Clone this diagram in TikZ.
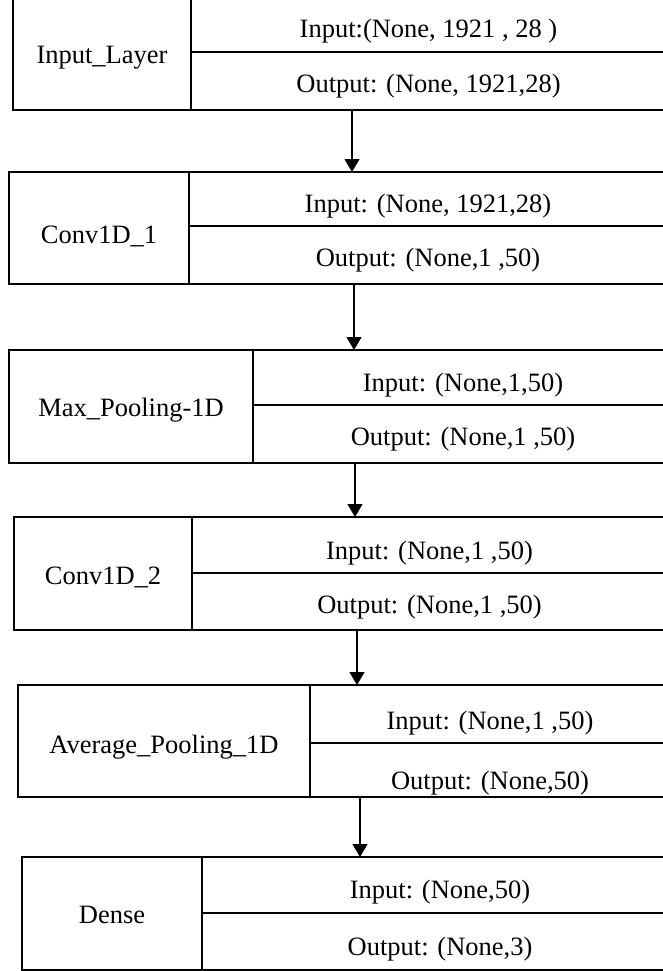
\documentclass[tikz,border=0pt]{standalone}
\usepackage{fontspec}
\setmainfont{Liberation Serif}
\usepackage{tikz}
\usetikzlibrary{positioning}
\usetikzlibrary{arrows.meta}

\newcommand{\rowtext}[2]{\raisebox{-#1pt}[0.75em][0.25em]{#2}}

\tikzset{
	layer/.style={draw, line width=1.5pt, inner sep=0pt, outer sep=0pt, anchor=north west, font=\fontsize{26.5}{30}\selectfont},
	flow/.style={-{Triangle[width=15pt,length=13pt]}, line width=1.2pt},
}

\begin{document}
\begin{tikzpicture}[x=1pt,y=-1pt]
	\useasboundingbox (0,0) rectangle (663,971);

	\node[layer, minimum width=178pt, minimum height=114pt] (name1) at (13,-4) {\rowtext{4}{Input\_Layer}};
	\node[layer, minimum width=475pt, minimum height=56pt] (in1) at (name1.north east) {\rowtext{7}{Input:(None, 1921 , 28 )}};
	\node[layer, minimum width=475pt, minimum height=58pt] (out1) at (in1.south west) {\rowtext{5}{Output: (None, 1921,28)}};

	\node[layer, minimum width=180pt, minimum height=112pt] (name2) at (9,172) {\rowtext{9}{Conv1D\_1}};
	\node[layer, minimum width=478pt, minimum height=54pt] (in2) at (name2.north east) {\rowtext{7}{Input: (None, 1921,28)}};
	\node[layer, minimum width=478pt, minimum height=58pt] (out2) at (in2.south west) {\rowtext{5}{Output: (None,1 ,50)}};

	\node[layer, minimum width=244pt, minimum height=113pt] (name3) at (9,350) {\rowtext{3.5}{Max\_Pooling-1D}};
	\node[layer, minimum width=420pt, minimum height=55pt] (in3) at (name3.north east) {\rowtext{7.5}{Input: (None,1,50)}};
	\node[layer, minimum width=420pt, minimum height=58pt] (out3) at (in3.south west) {\rowtext{5}{Output: (None,1 ,50)}};

	\node[layer, minimum width=178pt, minimum height=113pt] (name4) at (14,517) {\rowtext{4.5}{Conv1D\_2}};
	\node[layer, minimum width=475pt, minimum height=56pt] (in4) at (name4.north east) {\rowtext{7.5}{Input: (None,1 ,50)}};
	\node[layer, minimum width=475pt, minimum height=57pt] (out4) at (in4.south west) {\rowtext{5.5}{Output: (None,1 ,50)}};

	\node[layer, minimum width=292pt, minimum height=112pt] (name5) at (18,685) {\rowtext{6}{Average\_Pooling\_1D}};
	\node[layer, minimum width=360pt, minimum height=58pt] (in5) at (name5.north east) {\rowtext{9}{Input: (None,1 ,50)}};
	\node[layer, minimum width=360pt, minimum height=54pt] (out5) at (in5.south west) {\rowtext{13}{Output: (None,50)}};

	\node[layer, minimum width=180pt, minimum height=113pt] (name6) at (22,857) {\rowtext{3.5}{Dense}};
	\node[layer, minimum width=476pt, minimum height=56pt] (in6) at (name6.north east) {\rowtext{6.5}{Input: (None,50)}};
	\node[layer, minimum width=476pt, minimum height=57pt] (out6) at (in6.south west) {\rowtext{7}{Output: (None,3)}};

	\coordinate (ax1) at (352,0);
	\coordinate (ax2) at (354,0);
	\coordinate (ax3) at (355,0);
	\coordinate (ax4) at (357,0);
	\coordinate (ax5) at (360,0);

	\draw[flow] (out1.south -| ax1) -- (in2.north -| ax1);
	\draw[flow] (out2.south -| ax2) -- (in3.north -| ax2);
	\draw[flow] (out3.south -| ax3) -- (in4.north -| ax3);
	\draw[flow] (out4.south -| ax4) -- (in5.north -| ax4);
	\draw[flow] (out5.south -| ax5) -- (in6.north -| ax5);
\end{tikzpicture}
\end{document}
